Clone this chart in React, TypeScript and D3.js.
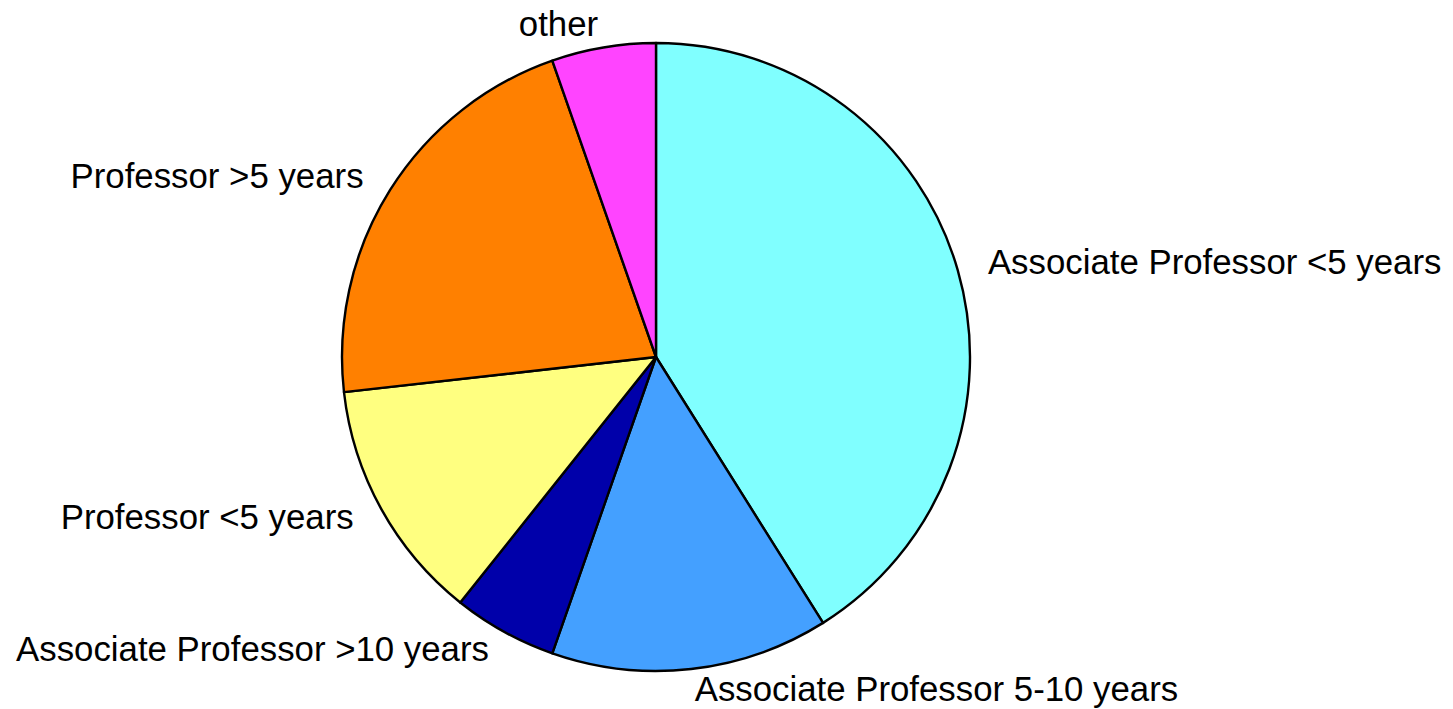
import React from "react";
import * as d3 from "d3";

const categories = [
  "Associate Professor <5 years",
  "Associate Professor 5-10 years",
  "Associate Professor >10 years",
  "Professor <5 years",
  "Professor >5 years",
  "other",
];
const counts = [23, 8, 3, 7, 12, 3];
const colors = ["#80ffff", "#44a0ff", "#0000aa", "#ffff80", "#ff8000", "#ff44ff"];

const W = 1453;
const H = 709;
const cx = 656;
const cy = 357;
const R = 314;

export default function App() {
  const data = categories.map((c, i) => ({ c, v: counts[i], color: colors[i] }));
  const pie = d3.pie<any>().value((d) => d.v).sort(null);
  const arcs = pie(data);
  const arcGen = d3.arc<any>().innerRadius(0).outerRadius(R);
  return (
    <svg
      width={W}
      height={H}
      style={{ position: "absolute", left: 0, top: 0, background: "#fff" }}
    >
      <g transform={`translate(${cx},${cy})`}>
        {arcs.map((a, i) => (
          <path
            key={i}
            d={arcGen(a) as string}
            fill={a.data.color}
            stroke="#000"
            strokeWidth={2.4}
            strokeLinejoin="round"
          />
        ))}
        {arcs.map((a, i) => {
          const mid = (a.startAngle + a.endAngle) / 2;
          const s = Math.sin(mid);
          const c = Math.cos(mid);
          const x = R * 1.1 * s;
          const y = -R * 1.07 * c;
          const anchor = s >= 0 ? "start" : "end";
          return (
            <text
              key={"t" + i}
              x={x}
              y={y}
              dy="0.28em"
              textAnchor={anchor}
              fontFamily="'Liberation Sans', Arial, Helvetica, sans-serif"
              fontSize={34.8}
              fill="#000"
            >
              {a.data.c}
            </text>
          );
        })}
      </g>
    </svg>
  );
}
